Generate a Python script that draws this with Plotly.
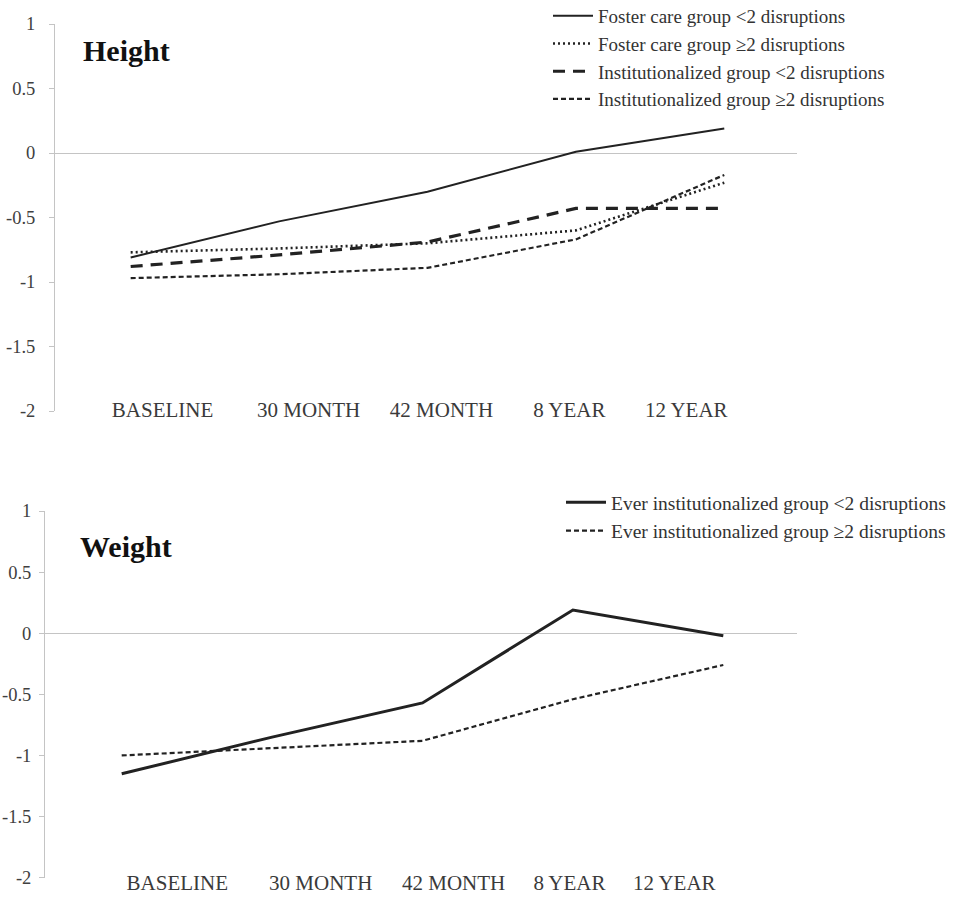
import plotly.graph_objects as go

# ---------------- data ----------------
categories = ["BASELINE", "30 MONTH", "42 MONTH", "8 YEAR", "12 YEAR"]

height_names = [
    "Foster care group <2 disruptions",
    "Foster care group \u22652 disruptions",
    "Institutionalized group <2 disruptions",
    "Institutionalized group \u22652 disruptions",
]
height_foster_lt2 = [-0.81, -0.53, -0.30, 0.01, 0.19]
height_foster_ge2 = [-0.77, -0.74, -0.70, -0.60, -0.23]
height_inst_lt2 = [-0.88, -0.79, -0.69, -0.43, -0.43]
height_inst_ge2 = [-0.97, -0.94, -0.89, -0.67, -0.17]

weight_names = [
    "Ever institutionalized group <2 disruptions",
    "Ever institutionalized group \u22652 disruptions",
]
weight_inst_lt2 = [-1.15, -0.85, -0.57, 0.19, -0.02]
weight_inst_ge2 = [-1.00, -0.94, -0.88, -0.54, -0.26]

y_tickvals = [1, 0.5, 0, -0.5, -1, -1.5, -2]
y_ticktext = ["1", "0.5", "0", "-0.5", "-1", "-1.5", "-2"]

# ---------------- layout helpers ----------------
W, H = 957, 897
FONT = "Liberation Serif"
INK = "#222222"
AXIS = "#c4c4c4"
xidx = list(range(len(categories)))

# label positions (category units) as drawn in the source figure
top_label_pos = [0.215, 1.199, 2.094, 2.956, 3.744]
bot_label_pos = [0.37, 1.323, 2.207, 2.977, 3.674]

fig = go.Figure()

height_series = [height_foster_lt2, height_foster_ge2, height_inst_lt2, height_inst_ge2]
height_styles = [
    dict(width=2, dash="solid"),
    dict(width=2.6, dash="2px,3px"),
    dict(width=3.2, dash="12px,8px"),
    dict(width=2.2, dash="5px,3px"),
]
for name, vals, st in zip(height_names, height_series, height_styles):
    fig.add_trace(go.Scatter(
        x=xidx, y=vals, mode="lines", name=name,
        line=dict(color=INK, **st),
        xaxis="x", yaxis="y", legend="legend",
    ))

weight_series = [weight_inst_lt2, weight_inst_ge2]
weight_styles = [
    dict(width=3, dash="solid"),
    dict(width=2.2, dash="5px,3px"),
]
for name, vals, st in zip(weight_names, weight_series, weight_styles):
    fig.add_trace(go.Scatter(
        x=xidx, y=vals, mode="lines", name=name,
        line=dict(color=INK, **st),
        xaxis="x2", yaxis="y2", legend="legend2",
    ))


def yax(domain, anchor, standoff):
    return dict(
        domain=domain, anchor=anchor, range=[-2, 1],
        tickvals=y_tickvals, ticktext=y_ticktext,
        showline=True, linecolor=AXIS, linewidth=1,
        ticks="outside", ticklen=5, tickcolor=AXIS, tickwidth=1,
        showgrid=False, zeroline=True, zerolinecolor=AXIS, zerolinewidth=1,
        tickfont=dict(family=FONT, size=18.5, color="#404040"),
        ticklabelstandoff=standoff, fixedrange=True, automargin=False,
    )


def xax(domain, anchor, pos, standoff):
    return dict(
        domain=domain, anchor=anchor, range=[-0.51, 4.49],
        tickvals=pos, ticktext=categories,
        showline=False, ticks="", showgrid=False, zeroline=False,
        tickfont=dict(family=FONT, size=21, color="#3a3a3a"),
        ticklabelstandoff=standoff, fixedrange=True, automargin=False,
    )


fig.update_layout(
    width=W, height=H,
    margin=dict(l=0, r=0, t=0, b=0, pad=0, autoexpand=False),
    paper_bgcolor="white", plot_bgcolor="white",
    font=dict(family=FONT, color=INK),
    xaxis=xax([55 / W, 797 / W], "y", top_label_pos, -16),
    yaxis=yax([1 - 411 / H, 1 - 24 / H], "x", 10),
    xaxis2=xax([45 / W, 797 / W], "y2", bot_label_pos, -10),
    yaxis2=yax([1 - 877.7 / H, 1 - 511 / H], "x2", 4),
    legend=dict(
        x=548 / W, y=1 + 3 / H, xanchor="left", yanchor="top",
        bgcolor="rgba(0,0,0,0)", borderwidth=0,
        font=dict(family=FONT, size=19, color="#333333"),
        itemwidth=40, tracegroupgap=0,
    ),
    legend2=dict(
        x=561 / W, y=1 - 483 / H, xanchor="left", yanchor="top",
        bgcolor="rgba(0,0,0,0)", borderwidth=0,
        font=dict(family=FONT, size=19.5, color="#333333"),
        itemwidth=40, tracegroupgap=0,
    ),
    showlegend=True,
    annotations=[
        dict(text="<b>Height</b>", xref="paper", yref="paper",
             x=126 / W, y=1 - 51 / H, xanchor="center", yanchor="middle",
             showarrow=False, font=dict(family=FONT, size=30, color="#111111")),
        dict(text="<b>Weight</b>", xref="paper", yref="paper",
             x=126 / W, y=1 - 546 / H, xanchor="center", yanchor="middle",
             showarrow=False, font=dict(family=FONT, size=30, color="#111111")),
    ],
)

fig.write_html("out.html", config={"displayModeBar": False},
               post_script="document.body.style.margin='0';")
